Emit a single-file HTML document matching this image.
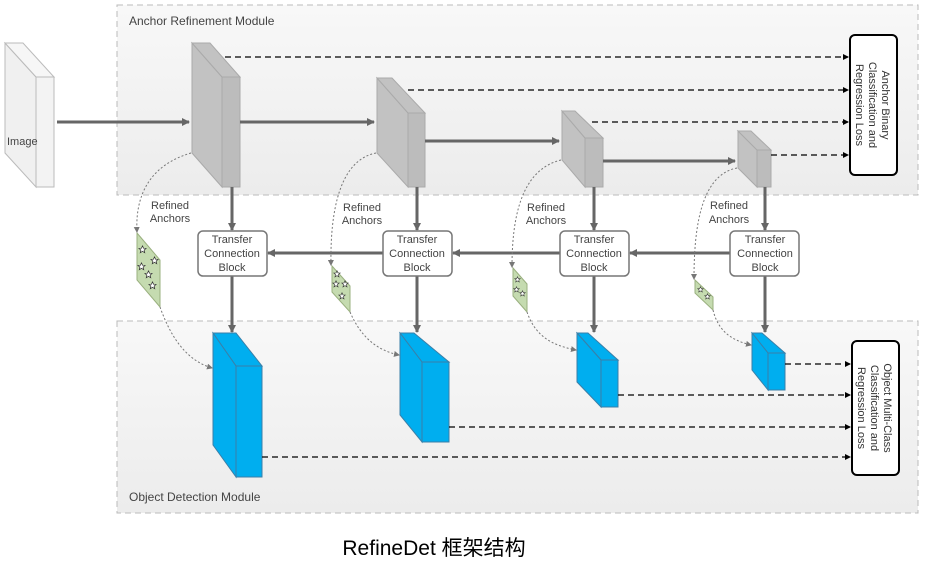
<!DOCTYPE html>
<html><head><meta charset="utf-8"><style>
html,body{margin:0;padding:0;background:#fff;}
svg{display:block;font-family:"Liberation Sans",Arial,sans-serif;}
</style></head><body>
<svg width="928" height="569" viewBox="0 0 928 569" xmlns="http://www.w3.org/2000/svg">
<defs>
<linearGradient id="g1" x1="0" y1="0" x2="0" y2="1"><stop offset="0" stop-color="#f8f8f8"/><stop offset="1" stop-color="#ececec"/></linearGradient>
<marker id="ah" markerWidth="8" markerHeight="8" refX="7" refY="4" orient="auto" markerUnits="userSpaceOnUse"><path d="M0,0 L8,4 L0,8 Z" fill="#666"/></marker>
<marker id="ahs" markerWidth="6" markerHeight="6" refX="5" refY="3" orient="auto" markerUnits="userSpaceOnUse"><path d="M0,0 L6,3 L0,6 Z" fill="#000"/></marker>
<marker id="ahd" markerWidth="6" markerHeight="6" refX="5" refY="3" orient="auto" markerUnits="userSpaceOnUse"><path d="M0,0 L6,3 L0,6 Z" fill="#777"/></marker>
<symbol id="star" viewBox="-5 -5 10 10"><polygon points="0,-4 1.2,-1.3 4,-1.2 1.8,0.7 2.5,3.6 0,2 -2.5,3.6 -1.8,0.7 -4,-1.2 -1.2,-1.3" fill="#fff" stroke="#333" stroke-width="0.8"/></symbol>
</defs>
<rect x="117" y="5" width="801" height="190" fill="url(#g1)" stroke="#bbb" stroke-dasharray="6,4"/>
<rect x="117" y="321" width="801" height="192" fill="url(#g1)" stroke="#bbb" stroke-dasharray="6,4"/>
<text x="129" y="25" font-size="12" fill="#444">Anchor Refinement Module</text>
<text x="129" y="501" font-size="12" fill="#444">Object Detection Module</text>

<polygon points="5,43 36,77 36,187 5,153" fill="#f0f0f0" stroke="#bbb"/>
<polygon points="5,43 23,43 54,77 36,77" fill="#f6f6f6" stroke="#bbb"/>
<rect x="36" y="77" width="18" height="110" fill="#f3f3f3" stroke="#bbb"/>
<text x="7" y="145" font-size="11" fill="#444">Image</text>

<g stroke="#aaa" fill="#c2c2c2">
<polygon points="192,43 222,77 222,187 192,153"/><polygon points="192,43 210,43 240,77 222,77"/><rect x="222" y="77" width="18" height="110" fill="#bcbcbc"/>
<polygon points="377,78 408,113 408,187 377,153"/><polygon points="377,78 392,78 425,113 408,113"/><rect x="408" y="113" width="17" height="74" fill="#bcbcbc"/>
<polygon points="562,111 585,138 585,187 562,160"/><polygon points="562,111 575,111 603,138 585,138"/><rect x="585" y="138" width="18" height="49" fill="#bcbcbc"/>
<polygon points="738,131 757,150 757,187 738,168"/><polygon points="738,131 751,131 771,150 757,150"/><rect x="757" y="150" width="14" height="37" fill="#bcbcbc"/>
</g>

<g stroke="#666" stroke-width="3" fill="none" marker-end="url(#ah)">
<line x1="57" y1="122" x2="189" y2="122"/>
<line x1="240" y1="122" x2="374" y2="122"/>
<line x1="425" y1="141" x2="559" y2="141"/>
<line x1="603" y1="161" x2="735" y2="161"/>
<line x1="232" y1="187" x2="232" y2="230"/>
<line x1="417" y1="187" x2="417" y2="230"/>
<line x1="594" y1="187" x2="594" y2="230"/>
<line x1="765" y1="187" x2="765" y2="230"/>
<line x1="383" y1="253" x2="268" y2="253"/>
<line x1="560" y1="253" x2="453" y2="253"/>
<line x1="730" y1="253" x2="630" y2="253"/>
<line x1="232" y1="276" x2="232" y2="332"/>
<line x1="417" y1="276" x2="417" y2="332"/>
<line x1="594" y1="276" x2="594" y2="332"/>
<line x1="765" y1="276" x2="765" y2="332"/>
</g>

<g font-size="11" fill="#444" text-anchor="middle">
<rect x="198" y="231" width="69" height="45" rx="5" fill="#fff" stroke="#777" stroke-width="1.5"/>
<text x="232" y="243">Transfer</text><text x="232" y="257">Connection</text><text x="232" y="271">Block</text>
<rect x="383" y="231" width="69" height="45" rx="5" fill="#fff" stroke="#777" stroke-width="1.5"/>
<text x="417" y="243">Transfer</text><text x="417" y="257">Connection</text><text x="417" y="271">Block</text>
<rect x="560" y="231" width="69" height="45" rx="5" fill="#fff" stroke="#777" stroke-width="1.5"/>
<text x="594" y="243">Transfer</text><text x="594" y="257">Connection</text><text x="594" y="271">Block</text>
<rect x="730" y="231" width="69" height="45" rx="5" fill="#fff" stroke="#777" stroke-width="1.5"/>
<text x="765" y="243">Transfer</text><text x="765" y="257">Connection</text><text x="765" y="271">Block</text>
<text x="170" y="209">Refined</text><text x="170" y="222">Anchors</text>
<text x="362" y="211">Refined</text><text x="362" y="224">Anchors</text>
<text x="546" y="211">Refined</text><text x="546" y="224">Anchors</text>
<text x="729" y="209">Refined</text><text x="729" y="223">Anchors</text>
</g>

<g stroke="#3a7fa8" fill="#00aeef">
<polygon points="213,333 236,333 262,366 236,366"/><polygon points="213,333 236,366 236,477 213,445"/><rect x="236" y="366" width="26" height="111"/>
<polygon points="400,333 414,333 449,362 422,362"/><polygon points="400,333 422,362 422,442 400,415"/><rect x="422" y="362" width="27" height="80"/>
<polygon points="577,333 588,333 618,360 601,360"/><polygon points="577,333 601,360 601,407 577,382"/><rect x="601" y="360" width="17" height="47"/>
<polygon points="752,333 762,333 785,353 768,353"/><polygon points="752,333 768,353 768,390 752,370"/><rect x="768" y="353" width="17" height="37"/>
</g>

<g fill="#c5dbb0" stroke="#9ab07f">
<polygon points="137,233 160,260 160,307 137,280"/>
<polygon points="332,266 350,286 350,312 332,292"/>
<polygon points="513,268 527,284 527,312 513,296"/>
<polygon points="695,280 713,297 713,310 695,293"/>
</g>
<g>
<use href="#star" x="138" y="245" width="9" height="9"/><use href="#star" x="150" y="256" width="9" height="9"/><use href="#star" x="137" y="262" width="9" height="9"/><use href="#star" x="144" y="270" width="9" height="9"/><use href="#star" x="148" y="281" width="9" height="9"/>
<use href="#star" x="333" y="270" width="8" height="8"/><use href="#star" x="332" y="280" width="8" height="8"/><use href="#star" x="341" y="280" width="8" height="8"/><use href="#star" x="338" y="292" width="8" height="8"/>
<use href="#star" x="514" y="276" width="7" height="7"/><use href="#star" x="513" y="286" width="7" height="7"/><use href="#star" x="519" y="290" width="7" height="7"/>
<use href="#star" x="697" y="286" width="7" height="7"/><use href="#star" x="704" y="293" width="7" height="7"/>
</g>

<g stroke="#777" stroke-width="1" stroke-dasharray="2,2" fill="none" marker-end="url(#ahd)">
<path d="M191,153 C150,165 135,195 137,232"/>
<path d="M160,307 C170,335 185,360 212,368"/>
<path d="M376,153 C340,160 330,210 331,265"/>
<path d="M350,312 C360,335 375,350 399,355"/>
<path d="M561,160 C520,170 512,220 512,267"/>
<path d="M527,312 C535,335 550,345 576,350"/>
<path d="M737,168 C700,175 694,230 694,279"/>
<path d="M713,310 C718,330 730,340 751,345"/>
</g>

<g stroke="#000" stroke-width="1.2" stroke-dasharray="6,4" fill="none" marker-end="url(#ahs)">
<line x1="225" y1="57" x2="848" y2="57"/>
<line x1="408" y1="90" x2="848" y2="90"/>
<line x1="592" y1="122" x2="848" y2="122"/>
<line x1="771" y1="155" x2="848" y2="155"/>
<line x1="785" y1="364" x2="850" y2="364"/>
<line x1="618" y1="395" x2="850" y2="395"/>
<line x1="449" y1="427" x2="850" y2="427"/>
<line x1="262" y1="457" x2="850" y2="457"/>
</g>

<rect x="850" y="35" width="47" height="140" rx="5" fill="#fff" stroke="#000" stroke-width="2"/>
<g transform="translate(873,105) rotate(90)" font-size="11" fill="#333" text-anchor="middle">
<text x="0" y="-9">Anchor Binary</text><text x="0" y="4">Classification and</text><text x="0" y="17">Regression Loss</text>
</g>
<rect x="852" y="341" width="47" height="134" rx="5" fill="#fff" stroke="#000" stroke-width="2"/>
<g transform="translate(875,408) rotate(90)" font-size="11" fill="#333" text-anchor="middle">
<text x="0" y="-9">Object Multi-Class</text><text x="0" y="4">Classification and</text><text x="0" y="17">Regression Loss</text>
</g>

<text x="434" y="555" font-size="21" fill="#000" text-anchor="middle" font-family="'Liberation Sans','Noto Sans CJK SC',sans-serif">RefineDet 框架结构</text>
</svg>
</body></html>
